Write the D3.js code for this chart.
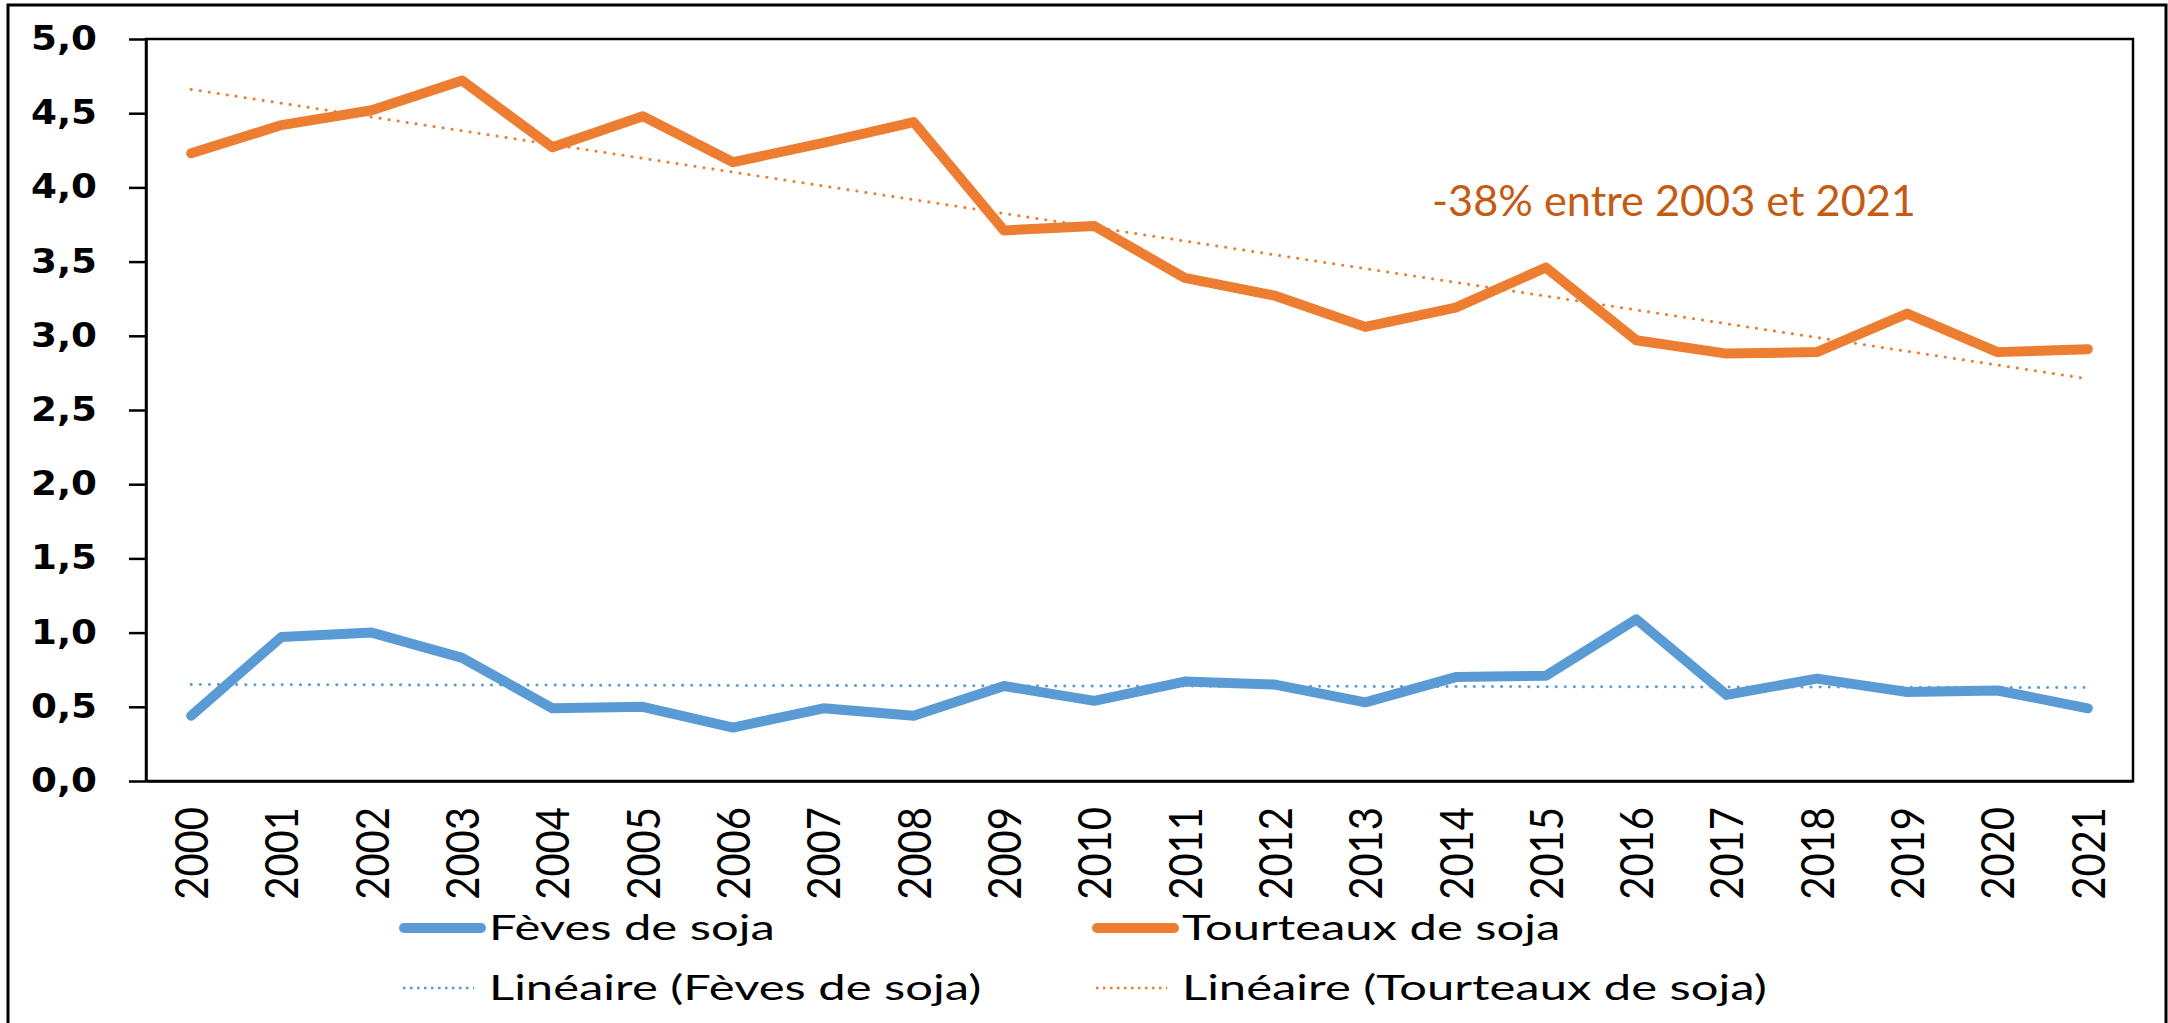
<!DOCTYPE html>
<html lang="fr">
<head>
<meta charset="UTF-8">
<title>Soja</title>
<script src="https://cdn.jsdelivr.net/npm/d3@7/dist/d3.min.js"></script>
<style>
  body { margin: 0; background: #fff; }
</style>
</head>
<body>
<svg></svg>
<script>
  // data
  var years = ['2000','2001','2002','2003','2004','2005','2006','2007','2008','2009','2010',
               '2011','2012','2013','2014','2015','2016','2017','2018','2019','2020','2021'];
  var feves = [0.44, 0.97, 1.00, 0.83, 0.49, 0.50, 0.36, 0.49, 0.44, 0.64, 0.54,
               0.67, 0.65, 0.53, 0.70, 0.71, 1.09, 0.58, 0.69, 0.60, 0.61, 0.49];
  var tourteaux = [4.23, 4.42, 4.52, 4.72, 4.27, 4.48, 4.17, 4.30, 4.44, 3.71, 3.74,
                   3.39, 3.27, 3.06, 3.19, 3.46, 2.97, 2.88, 2.89, 3.15, 2.89, 2.91];
  // trend lines, ends (2000, 2021)
  var trendFeves = [0.65, 0.63];
  var trendTourteaux = [4.66, 2.71];
  var yTicks = [0, 0.5, 1, 1.5, 2, 2.5, 3, 3.5, 4, 4.5, 5];
  var note = '-38% entre 2003 et 2021';
  var legendItems = [
    {label: 'Fèves de soja', color: '#5B9BD5', dotted: false},
    {label: 'Tourteaux de soja', color: '#ED7D31', dotted: false},
    {label: 'Linéaire (Fèves de soja)', color: '#5B9BD5', dotted: true},
    {label: 'Linéaire (Tourteaux de soja)', color: '#ED7D31', dotted: true}
  ];

  var W = 2168, H = 1023;
  var plot = {left: 146, top: 39, right: 2133, bottom: 781};

  var svg = d3.select('svg')
    .attr('width', W)
    .attr('height', H);

  // outer frame
  svg.append('rect')
    .attr('x', 8).attr('y', 5)
    .attr('width', 2158).attr('height', 1040)
    .attr('fill', 'none')
    .attr('stroke', '#000')
    .attr('stroke-width', 3);

  var x = d3.scalePoint()
    .domain(years)
    .range([plot.left, plot.right])
    .padding(0.5);

  var y = d3.scaleLinear()
    .domain([0, 5])
    .range([plot.bottom, plot.top]);

  // plot frame
  svg.append('rect')
    .attr('x', plot.left).attr('y', plot.top)
    .attr('width', plot.right - plot.left)
    .attr('height', plot.bottom - plot.top)
    .attr('fill', 'none')
    .attr('stroke', '#000')
    .attr('stroke-width', 2.5);

  // y axis
  var ySx = 1.13;
  var yAxis = svg.append('g')
    .attr('transform', 'translate(' + plot.left + ',0)')
    .call(d3.axisLeft(y)
      .tickValues(yTicks)
      .tickSize(17)
      .tickSizeOuter(0)
      .tickFormat(function (d) { return d3.format('.1f')(d).replace('.', ','); }));
  yAxis.select('.domain').attr('stroke', '#000').attr('stroke-width', 2.5);
  yAxis.selectAll('.tick line').attr('stroke', '#000').attr('stroke-width', 2.5);
  yAxis.selectAll('.tick text')
    .attr('fill', '#000')
    .attr('x', -49 / ySx)
    .attr('transform', 'scale(' + ySx + ',1)')
    .style('font-family', '"DejaVu Sans", Verdana, sans-serif')
    .style('font-weight', 'bold')
    .style('font-size', '33px');

  // x axis
  var xAxis = svg.append('g')
    .attr('transform', 'translate(0,' + plot.bottom + ')')
    .call(d3.axisBottom(x).tickSize(0).tickSizeOuter(0));
  xAxis.select('.domain').attr('stroke', '#000').attr('stroke-width', 2.5);
  xAxis.selectAll('.tick text')
    .attr('fill', '#000')
    .attr('y', 0)
    .attr('x', -26)
    .attr('dy', '0.36em')
    .attr('transform', 'rotate(-90) scale(1,1.14)')
    .style('text-anchor', 'end')
    .style('font-family', 'Lato, sans-serif')
    .style('font-size', '40px');

  var line = d3.line()
    .x(function (d, i) { return x(years[i]); })
    .y(function (d) { return y(d); });

  var trendLine = d3.line()
    .x(function (d, i) { return x(i === 0 ? years[0] : years[years.length - 1]); })
    .y(function (d) { return y(d); });

  // trends
  [[trendFeves, '#5B9BD5'], [trendTourteaux, '#ED7D31']].forEach(function (t) {
    svg.append('path')
      .datum(t[0])
      .attr('fill', 'none')
      .attr('stroke', t[1])
      .attr('stroke-width', 3)
      .attr('stroke-linecap', 'round')
      .attr('stroke-dasharray', '0.1 9')
      .attr('d', trendLine);
  });

  // series
  [[feves, '#5B9BD5'], [tourteaux, '#ED7D31']].forEach(function (s) {
    svg.append('path')
      .datum(s[0])
      .attr('fill', 'none')
      .attr('stroke', s[1])
      .attr('stroke-width', 10)
      .attr('stroke-linejoin', 'round')
      .attr('stroke-linecap', 'round')
      .attr('d', line);
  });

  // annotation
  svg.append('text')
    .attr('transform', 'translate(1432,216) scale(1.03,1)')
    .attr('fill', '#C55A11')
    .style('font-family', 'Lato, sans-serif')
    .style('font-size', '42px')
    .text(note);

  // legend
  var legPos = [
    {x: 400, y: 928}, {x: 1093, y: 928},
    {x: 400, y: 988}, {x: 1093, y: 988}
  ];
  var leg = svg.selectAll('.legend')
    .data(legendItems)
    .enter()
    .append('g')
    .attr('class', 'legend')
    .attr('transform', function (d, i) { return 'translate(' + legPos[i].x + ',' + legPos[i].y + ')'; });

  leg.append('line')
    .attr('x1', function (d) { return d.dotted ? 3 : 4; })
    .attr('x2', function (d) { return d.dotted ? 74 : 81; })
    .attr('y1', 0).attr('y2', 0)
    .attr('stroke', function (d) { return d.color; })
    .attr('stroke-width', function (d) { return d.dotted ? 2.5 : 10; })
    .attr('stroke-linecap', function (d) { return d.dotted ? 'butt' : 'round'; })
    .attr('stroke-dasharray', function (d) { return d.dotted ? '2.5 4.5' : null; });

  leg.append('text')
    .attr('transform', 'translate(89,12) scale(1.44,1)')
    .attr('fill', '#000')
    .style('font-family', 'Lato, sans-serif')
    .style('font-size', '34px')
    .text(function (d) { return d.label; });
</script>
</body>
</html>
